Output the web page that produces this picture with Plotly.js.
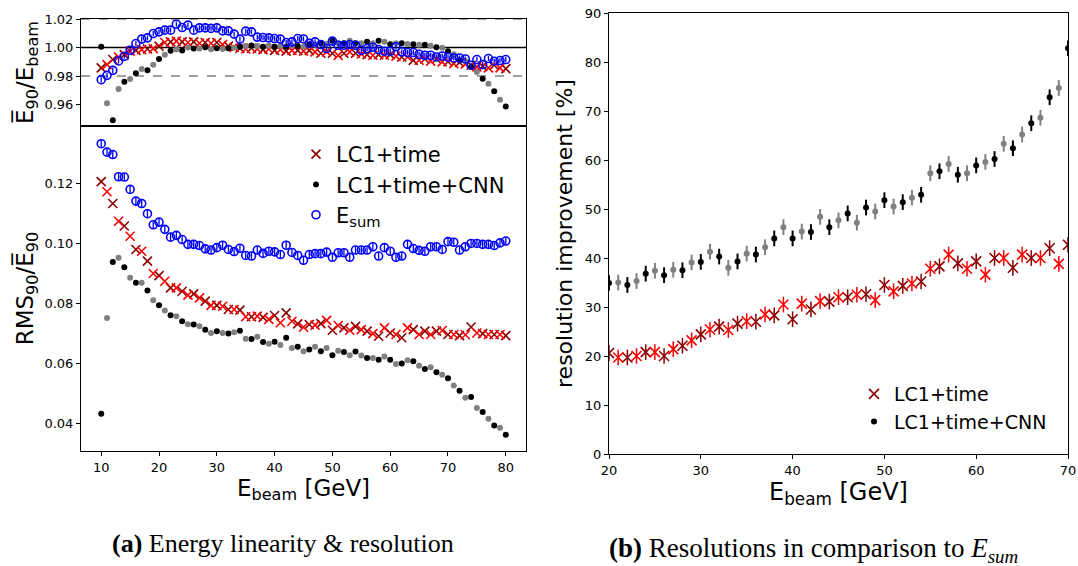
<!DOCTYPE html>
<html>
<head>
<meta charset="utf-8">
<script src="https://cdn.plot.ly/plotly-3.0.1.min.js"></script>
<style>html,body{margin:0;padding:0;background:#fff;}#chart{width:1078px;height:566px;}</style>
</head>
<body>
<div id="chart"></div>
<script>
// ---------- data: panel (a) ----------
const ebeamA = [10,11,12,13,14,15,16,17,18,19,20,21,22,23,24,25,26,27,28,29,30,31,32,33,34,35,36,37,38,39,40,41,42,43,44,45,46,47,48,49,50,51,52,53,54,55,56,57,58,59,60,61,62,63,64,65,66,67,68,69,70,71,72,73,74,75,76,77,78,79,80];

const linLC1 = [0.9857,0.988,0.9916,0.9934,0.995,0.9975,0.998,0.9985,0.999,0.9992,1.001,1.0035,1.004,1.0045,1.004,1.0035,1.004,1.003,1.0035,1.003,1.0035,1.002,1.001,1.000,0.9995,0.999,0.9995,0.999,0.9985,0.999,0.998,0.9985,0.9975,0.998,0.998,0.9975,0.998,0.997,0.996,0.997,0.996,0.9945,0.996,0.997,0.996,0.9955,0.995,0.9946,0.995,0.9946,0.995,0.994,0.9934,0.9934,0.991,0.9911,0.992,0.9905,0.992,0.9899,0.990,0.9887,0.9895,0.9885,0.9876,0.9864,0.9868,0.9857,0.9876,0.9857,0.9852];

const linCNN = [1.0005,0.961,0.949,0.971,0.976,0.978,0.982,0.985,0.984,0.988,0.992,0.995,0.9977,0.9986,0.998,1.000,0.9993,0.9993,1.0002,0.9988,0.9995,0.999,0.9995,0.9998,1.0005,1.001,1.0015,1.001,1.0005,1.0015,1.0005,1.001,1.0005,1.0015,1.001,1.0005,1.0023,1.002,1.003,1.0025,1.0047,1.003,1.003,1.0047,1.003,1.003,1.004,1.003,1.0047,1.004,1.0023,1.003,1.003,1.0025,1.0023,1.002,1.002,1.0012,1.0002,0.9998,0.9974,0.9953,0.9911,0.9906,0.9864,0.9829,0.9782,0.9747,0.9693,0.9634,0.9587];

const linEsum = [0.9775,0.9805,0.984,0.9906,0.9939,0.9981,1.0028,1.0059,1.0068,1.0098,1.011,1.0122,1.0122,1.0164,1.014,1.0157,1.0122,1.0138,1.0138,1.0134,1.0138,1.0117,1.0117,1.0094,1.0059,1.0115,1.011,1.0073,1.007,1.0068,1.0063,1.0059,1.0035,1.004,1.0063,1.006,1.003,1.004,1.0021,0.9993,1.0045,1.0016,1.0016,1.0021,1.0016,0.9981,0.9993,1.0002,0.9986,0.9974,0.9974,1.0005,0.997,0.9965,0.9965,0.9953,0.9946,0.9946,0.9934,0.9941,0.9932,0.9927,0.9927,0.992,0.9876,0.9916,0.988,0.9923,0.9904,0.9909,0.9916];

const resLC1 = [0.1206,0.1172,0.1133,0.1074,0.1058,0.1024,0.098,0.0974,0.0941,0.09,0.0893,0.0874,0.0852,0.0852,0.0841,0.0828,0.0832,0.0819,0.0808,0.0794,0.0794,0.0791,0.078,0.078,0.0778,0.0756,0.0756,0.0758,0.0754,0.0747,0.076,0.0736,0.0769,0.0741,0.0732,0.0721,0.073,0.0728,0.0733,0.0744,0.0711,0.0727,0.0719,0.0711,0.0724,0.0713,0.0708,0.07,0.0691,0.0719,0.0702,0.0697,0.0686,0.0719,0.0713,0.0697,0.0708,0.0697,0.0708,0.071,0.0697,0.0697,0.0693,0.0696,0.0722,0.0702,0.07,0.0697,0.0697,0.0697,0.0693];

const resCNN = [0.0433,0.0752,0.0938,0.0952,0.0921,0.0886,0.0869,0.0869,0.0843,0.0811,0.0794,0.0777,0.0761,0.0758,0.0741,0.0731,0.073,0.0724,0.0713,0.0702,0.0708,0.0702,0.07,0.0704,0.0709,0.0683,0.0682,0.0689,0.0672,0.0666,0.0673,0.0662,0.0686,0.0652,0.0656,0.0641,0.0647,0.0656,0.0641,0.0652,0.0628,0.0643,0.0639,0.0628,0.064,0.0627,0.0619,0.0619,0.0613,0.0624,0.0613,0.0599,0.06,0.0611,0.0608,0.0593,0.0582,0.0588,0.0571,0.0563,0.0551,0.0527,0.051,0.0486,0.0489,0.0452,0.0439,0.0416,0.0394,0.0386,0.0363];

const resEsum = [0.1332,0.1304,0.1296,0.1222,0.1221,0.118,0.1141,0.1133,0.1099,0.1062,0.1071,0.1047,0.1021,0.1027,0.1013,0.0997,0.0997,0.0993,0.0982,0.0978,0.0986,0.0994,0.098,0.0973,0.0984,0.096,0.0958,0.0978,0.0967,0.0974,0.0972,0.0963,0.0994,0.097,0.096,0.0944,0.0963,0.0966,0.0966,0.0971,0.0954,0.0969,0.0969,0.0954,0.0978,0.0978,0.0978,0.0989,0.0958,0.0986,0.0974,0.0954,0.0958,0.0997,0.0983,0.0977,0.0974,0.0989,0.0989,0.098,0.1006,0.1004,0.0978,0.0989,0.1,0.1,0.0997,0.0997,0.0993,0.1002,0.1008];

// ---------- data: panel (b) ----------
const ebeamB = [20,21,22,23,24,25,26,27,28,29,30,31,32,33,34,35,36,37,38,39,40,41,42,43,44,45,46,47,48,49,50,51,52,53,54,55,56,57,58,59,60,61,62,63,64,65,66,67,68,69,70];

const impLC1 = [20.6,19.7,19.7,20.0,20.8,20.8,20.0,21.4,22.1,23.2,24.4,25.4,26.0,25.3,26.6,27.1,27.0,28.5,28.3,30.5,27.5,30.7,29.5,31.2,31.1,32.0,32.0,32.5,32.6,31.4,34.5,33.2,34.3,34.8,35.2,37.8,38.3,40.7,38.9,37.8,39.3,36.6,40.0,40.0,38.0,40.7,40.0,40.0,42.0,38.8,42.7];

const impCNN = [34.9,35.0,34.5,35.3,36.8,37.4,36.5,37.6,37.5,39.1,39.2,41.3,40.3,38.0,39.3,40.9,40.7,42.2,44.0,46.3,44.0,45.4,45.3,48.4,46.3,47.7,49.1,47.2,50.3,49.5,51.8,50.5,51.4,52.3,52.9,57.3,57.7,59.2,57.0,57.3,58.9,59.6,60.2,63.3,62.4,65.2,67.5,68.6,72.8,74.7,82.8];

const errLinEsum = 0.0018, errResEsum = 0.0012, errImp = 1.6;

const names = ['LC1+time', 'LC1+time+CNN', 'E<sub>sum</sub>'];
const DARKRED = '#8b0000', RED = '#ff0000', BLACK = '#000000', GRAY = '#808080', BLUE = '#0000ff';

// ---------- helpers ----------
const W = 1078, H = 566;
const fx = p => p / W;
const fy = p => 1 - p / H;
const pick = (arr, par) => arr.filter((_, i) => i % 2 === par);

function crossTrace(x, y, xa, ya, color, size, opts) {
  return Object.assign({
    type: 'scatter', mode: 'markers', x: x, y: y, xaxis: xa, yaxis: ya,
    marker: {symbol: 'x-thin-open', size: size, color: color, line: {color: color, width: 1.6}},
    showlegend: false, hoverinfo: 'skip'
  }, opts || {});
}
function dotTrace(x, y, xa, ya, color, size, opts) {
  return Object.assign({
    type: 'scatter', mode: 'markers', x: x, y: y, xaxis: xa, yaxis: ya,
    marker: {symbol: 'circle', size: size, color: color, line: {width: 0}},
    showlegend: false, hoverinfo: 'skip'
  }, opts || {});
}

const traces = [];
// panel (a): bottom = resolution, top = linearity
[['x','y',resLC1,resCNN,resEsum,errResEsum,true],['x2','y2',linLC1,linCNN,linEsum,errLinEsum,false]].forEach(([xa,ya,lc,cnn,es,ee,leg]) => {
  traces.push(crossTrace(pick(ebeamA,0), pick(lc,0), xa, ya, DARKRED, 9, {name: names[0], showlegend: leg, legend: 'legend'}));
  traces.push(crossTrace(pick(ebeamA,1), pick(lc,1), xa, ya, RED, 9));
  traces.push(dotTrace(pick(ebeamA,0), pick(cnn,0), xa, ya, BLACK, 6, {name: names[1], showlegend: leg, legend: 'legend'}));
  traces.push(dotTrace(pick(ebeamA,1), pick(cnn,1), xa, ya, GRAY, 6));
  traces.push({
    type: 'scatter', mode: 'markers', x: ebeamA, y: es, xaxis: xa, yaxis: ya,
    name: names[2], showlegend: leg, legend: 'legend', hoverinfo: 'skip',
    marker: {symbol: 'circle-open', size: 8, color: BLUE, line: {color: BLUE, width: 1.6}},
    error_y: {type: 'constant', value: ee, color: BLUE, thickness: 1.3, width: 0}
  });
});
// panel (b)
const errB = c => ({type: 'constant', value: errImp, color: c, thickness: 2, width: 0});
traces.push(crossTrace(pick(ebeamB,0), pick(impLC1,0), 'x3', 'y3', DARKRED, 10, {name: names[0], showlegend: true, legend: 'legend2', error_y: Object.assign(errB(DARKRED), {thickness: 1.5})}));
traces.push(crossTrace(pick(ebeamB,1), pick(impLC1,1), 'x3', 'y3', RED, 10, {error_y: Object.assign(errB(RED), {thickness: 1.5})}));
traces.push(dotTrace(pick(ebeamB,0), pick(impCNN,0), 'x3', 'y3', BLACK, 6, {name: names[1], showlegend: true, legend: 'legend2', error_y: errB(BLACK)}));
traces.push(dotTrace(pick(ebeamB,1), pick(impCNN,1), 'x3', 'y3', GRAY, 6, {error_y: errB(GRAY)}));

const FONT = 'DejaVu Sans, Arial, sans-serif';
const SERIF = 'Liberation Serif, DejaVu Serif, serif';
const axBase = {
  showline: true, mirror: true, linecolor: '#000', linewidth: 1,
  ticks: 'outside', ticklen: 4, tickwidth: 1, tickcolor: '#000',
  showgrid: false, zeroline: false, tickfont: {family: FONT, size: 13, color: '#000'}
};
const ax = o => Object.assign({}, axBase, o);

const layout = {
  width: W, height: H, margin: {l: 0, r: 0, t: 0, b: 0},
  paper_bgcolor: '#fff', plot_bgcolor: '#fff',
  font: {family: FONT, color: '#000'},
  xaxis: ax({domain: [fx(81), fx(526)], anchor: 'y', range: [6.5, 83.5], tickvals: [10,20,30,40,50,60,70,80],
    title: {text: 'E<sub>beam</sub> [GeV]', font: {size: 23}, standoff: 4}}),
  yaxis: ax({domain: [fy(451), fy(126)], anchor: 'x', range: [0.0309, 0.1391], tickvals: [0.04,0.06,0.08,0.10,0.12], tickformat: '.2f',
    title: {text: 'RMS<sub>90</sub>/E\u0305<sub>90</sub>', font: {size: 23}, standoff: 4}}),
  xaxis2: ax({domain: [fx(81), fx(526)], anchor: 'y2', range: [6.5, 83.5], showticklabels: false, ticks: ''}),
  yaxis2: ax({domain: [fy(126), fy(19)], anchor: 'x2', range: [0.945, 1.02], tickvals: [0.96,0.98,1.00,1.02], tickformat: '.2f',
    title: {text: 'E\u0305<sub>90</sub>/E<sub>beam</sub>', font: {size: 23}, standoff: 4}}),
  xaxis3: ax({domain: [fx(609), fx(1068)], anchor: 'y3', range: [20, 70], tickvals: [20,30,40,50,60,70],
    title: {text: 'E<sub>beam</sub> [GeV]', font: {size: 24}, standoff: 4}}),
  yaxis3: ax({domain: [fy(454), fy(13)], anchor: 'x3', range: [0, 90], tickvals: [0,10,20,30,40,50,60,70,80,90],
    title: {text: 'resolution improvement [%]', font: {size: 22}, standoff: 6}}),
  shapes: [
    {type: 'line', xref: 'x2 domain', yref: 'y2', x0: 0, x1: 1, y0: 1.0, y1: 1.0, line: {color: '#000', width: 1.5}, layer: 'below'},
    {type: 'line', xref: 'x2 domain', yref: 'y2', x0: 0, x1: 1, y0: 0.98, y1: 0.98, line: {color: '#808080', width: 1.5, dash: 'dash'}, layer: 'below'},
    {type: 'line', xref: 'x2 domain', yref: 'y2', x0: 0, x1: 1, y0: 1.02, y1: 1.02, line: {color: '#808080', width: 1.5, dash: 'dash'}, layer: 'above'}
  ],
  legend: {x: fx(296), y: fy(134), xanchor: 'left', yanchor: 'top', bgcolor: 'rgba(0,0,0,0)', borderwidth: 0,
    font: {family: FONT, size: 21, color: '#000'}, traceorder: 'normal'},
  legend2: {x: fx(854), y: fy(375), xanchor: 'left', yanchor: 'top', bgcolor: 'rgba(0,0,0,0)', borderwidth: 0,
    font: {family: FONT, size: 19, color: '#000'}, traceorder: 'normal'},
  annotations: [
    {xref: 'paper', yref: 'paper', x: fx(283), y: fy(543), xanchor: 'center', yanchor: 'middle', showarrow: false,
      text: '<b>(a)</b> Energy linearity &amp; resolution', font: {family: SERIF, size: 26, color: '#000'}},
    {xref: 'paper', yref: 'paper', x: fx(813), y: fy(550), xanchor: 'center', yanchor: 'middle', showarrow: false,
      text: '<b>(b)</b> Resolutions in comparison to <i>E<sub>sum</sub></i>', font: {family: SERIF, size: 27, color: '#000'}}
  ]
};

Plotly.newPlot('chart', traces, layout, {displayModeBar: false, staticPlot: true});
</script>
</body>
</html>
